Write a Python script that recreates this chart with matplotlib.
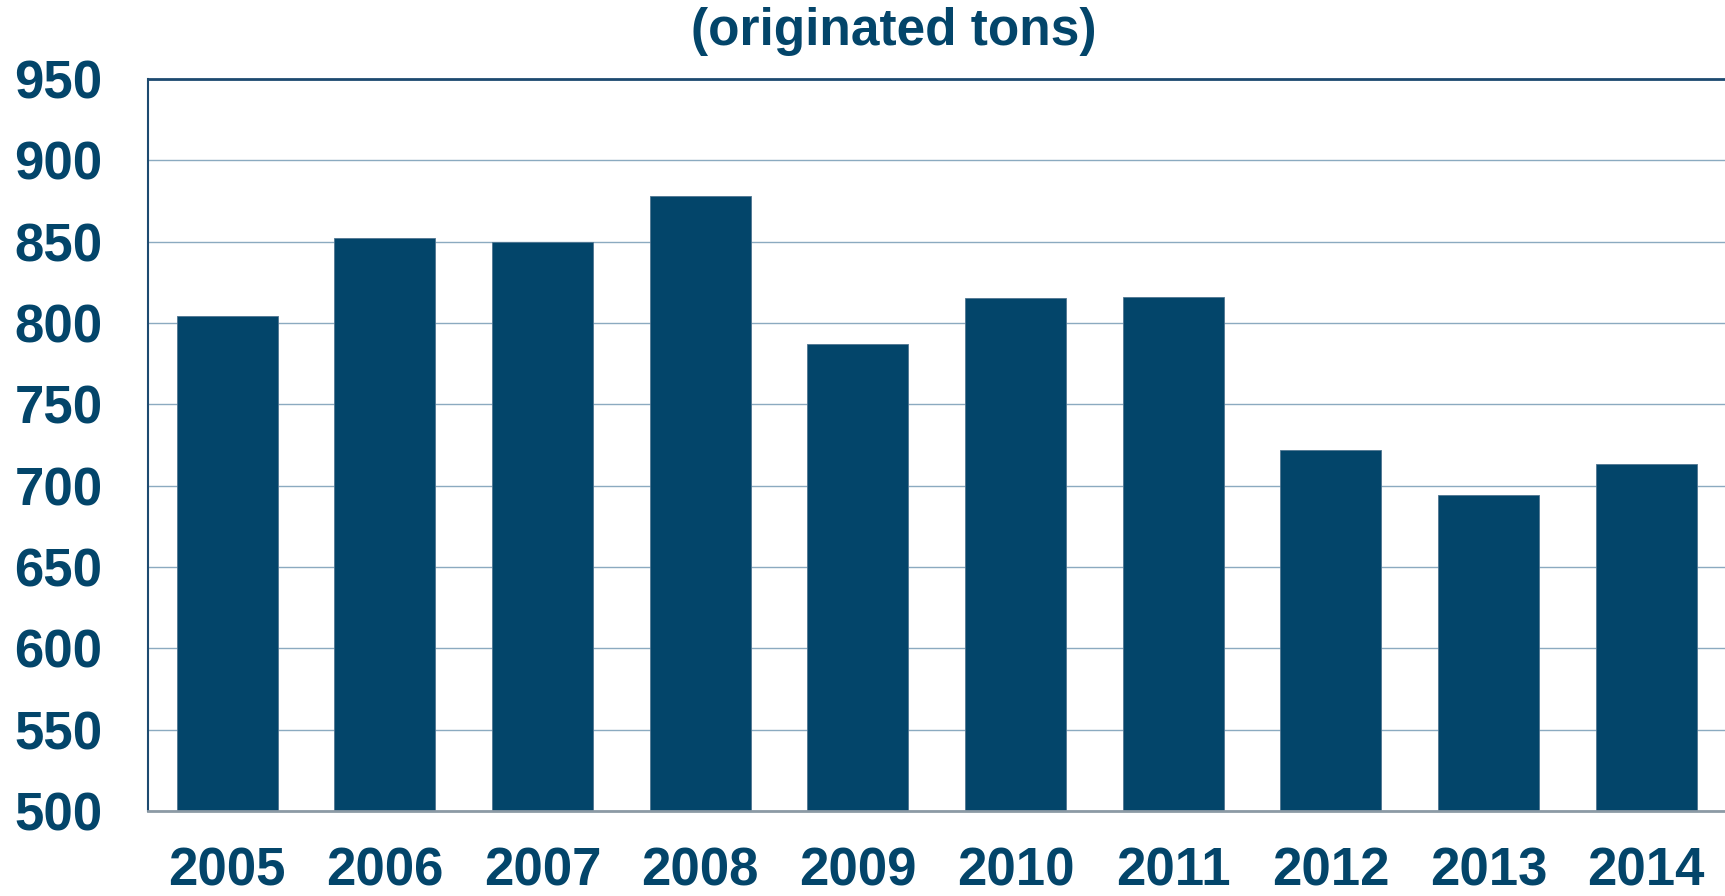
import matplotlib.pyplot as plt

plt.rcParams['font.family'] = ['Liberation Sans', 'DejaVu Sans']

years = ["2005", "2006", "2007", "2008", "2009", "2010", "2011", "2012", "2013", "2014"]
tons = [804, 852, 850, 878, 787, 815, 816, 722, 694, 713]
y_ticks = [500, 550, 600, 650, 700, 750, 800, 850, 900, 950]

navy = '#03456A'
grid_col = '#8BAAC0'

fig = plt.figure(figsize=(17.25, 8.96), dpi=100)
ax = fig.add_axes([0.086, 0.095, 0.914, 0.817])

x = range(len(years))
ax.bar(x, [t - 500 for t in tons], bottom=500, width=0.64, color=navy,
       edgecolor='#4f7591', linewidth=0.6, zorder=3)

ax.set_xlim(-0.5, len(years) - 0.5)
ax.set_ylim(500, 950)
ax.set_yticks(y_ticks)
ax.set_yticklabels([str(v) for v in y_ticks])
ax.set_xticks(list(x))
ax.set_xticklabels(years)

ax.yaxis.grid(True, color=grid_col, linewidth=1.0, zorder=0)
ax.tick_params(axis='y', length=0, pad=33, labelsize=38, labelcolor=navy)
ax.tick_params(axis='x', length=0, pad=26, labelsize=38, labelcolor=navy)
for lbl in ax.get_xticklabels() + ax.get_yticklabels():
    lbl.set_fontweight('bold')

ax.spines['right'].set_visible(False)
ax.spines['left'].set_color('#1d4a70')
ax.spines['left'].set_linewidth(1.5)
ax.spines['top'].set_color('#1d4a70')
ax.spines['top'].set_linewidth(2.0)
ax.spines['bottom'].set_color('#8c9aa5')
ax.spines['bottom'].set_linewidth(2.0)
ax.spines['bottom'].set_zorder(4)

fig.text(0.518, 0.965, "(originated tons)", ha='center', va='center',
         fontsize=37, fontweight='bold', color=navy)

fig.savefig("out.png", dpi=100, facecolor='white')
